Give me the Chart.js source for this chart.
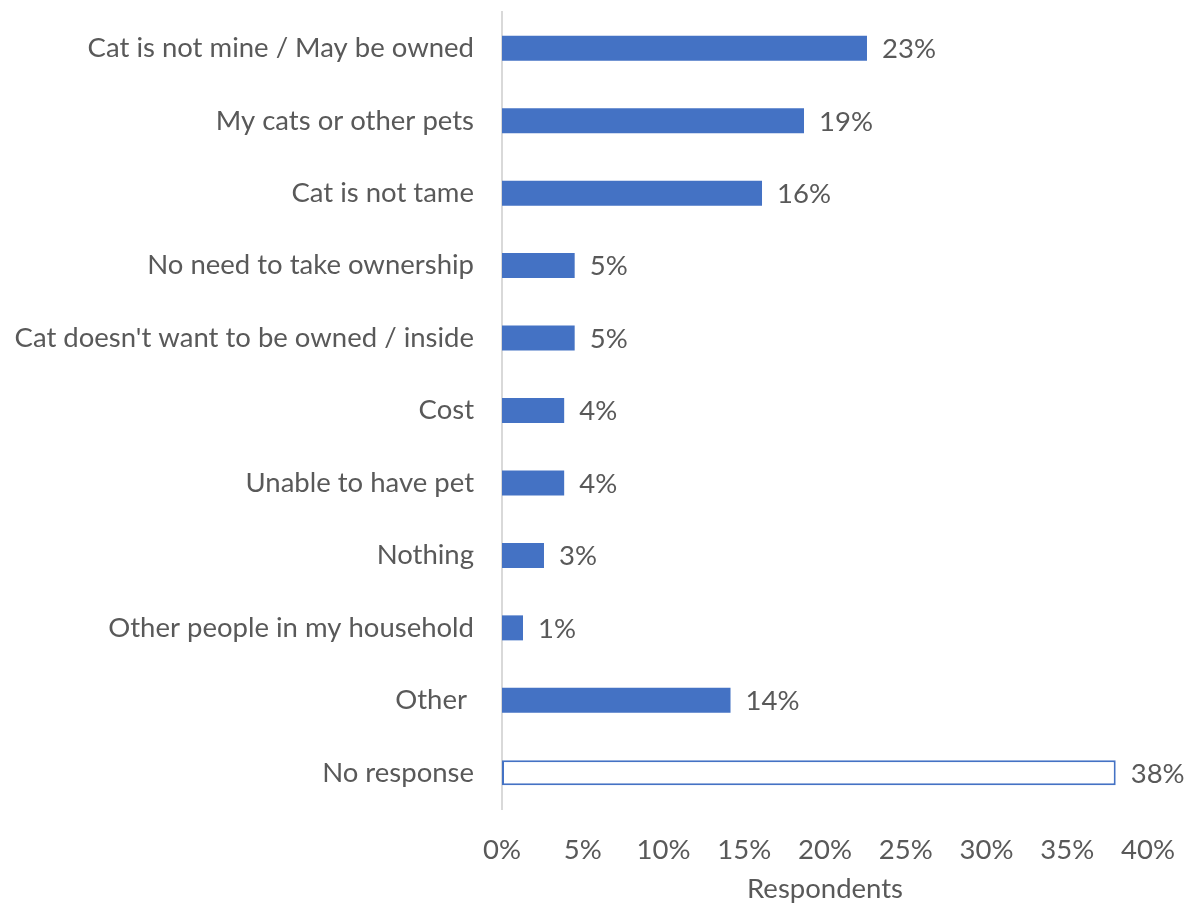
<!DOCTYPE html>
<html>
<head>
<meta charset="utf-8">
<script src="https://cdn.jsdelivr.net/npm/chart.js@4/dist/chart.umd.min.js"></script>
<style>
html,body{margin:0;padding:0;background:#fff;}
#c{display:block;}
</style>
</head>
<body>
<canvas id="c" width="1192" height="906"></canvas>
<script>
const categories = [
  "Cat is not mine / May be owned",
  "My cats or other pets",
  "Cat is not tame",
  "No need to take ownership",
  "Cat doesn't want to be owned / inside",
  "Cost",
  "Unable to have pet",
  "Nothing",
  "Other people in my household",
  "Other ",
  "No response"
];
const values = [22.6, 18.7, 16.1, 4.5, 4.5, 3.85, 3.85, 2.6, 1.3, 14.15, 38.0];
const valueLabels = ["23%", "19%", "16%", "5%", "5%", "4%", "4%", "3%", "1%", "14%", "38%"];
const xTicks = [0, 5, 10, 15, 20, 25, 30, 35, 40];
const axisTitle = "Respondents";

const FONT = "Lato";
const FS = 27.5;
const TEXT = "#595959";
const BLUE = "#4472C4";

const fills = categories.map((c, i) => i === categories.length - 1 ? "#FFFFFF" : BLUE);

const labelPlugin = {
  id: 'valueLabels',
  afterDatasetsDraw(chart) {
    const ctx = chart.ctx;
    const meta = chart.getDatasetMeta(0);
    ctx.save();
    ctx.font = FS + "px " + FONT;
    ctx.fillStyle = TEXT;
    ctx.textAlign = "left";
    ctx.textBaseline = "middle";
    meta.data.forEach((bar, i) => {
      ctx.fillText(valueLabels[i], bar.x + 15, bar.y + 1);
    });
    ctx.restore();
  }
};

new Chart(document.getElementById('c'), {
  type: 'bar',
  data: {
    labels: categories,
    datasets: [{
      data: values,
      backgroundColor: fills,
      borderColor: BLUE,
      borderWidth: categories.map((c, i) => i === categories.length - 1 ? 2 : 0),
      borderSkipped: false,
      barPercentage: 0.345,
      categoryPercentage: 1.0
    }]
  },
  options: {
    indexAxis: 'y',
    responsive: false,
    animation: false,
    devicePixelRatio: 1,
    layout: { padding: { top: 12, right: 44, bottom: 0, left: 0 } },
    plugins: { legend: { display: false }, tooltip: { enabled: false } },
    scales: {
      x: {
        min: 0, max: 40,
        afterBuildTicks(scale) { scale.ticks = xTicks.map(v => ({ value: v })); },
        afterFit(scale) { scale.height = 97; scale.paddingLeft = 0; scale.paddingRight = 0; },
        grid: { display: false, drawTicks: false },
        border: { display: false },
        ticks: {
          padding: 25,
          color: TEXT,
          font: { family: FONT, size: FS },
          maxRotation: 0,
          callback: v => v + "%"
        },
        title: {
          display: true,
          text: axisTitle,
          color: TEXT,
          font: { family: FONT, size: FS },
          padding: { top: 0, bottom: 0 }
        }
      },
      y: {
        afterFit(scale) { scale.width = 502; scale.paddingTop = 0; scale.paddingBottom = 0; },
        grid: { display: false, drawTicks: false },
        border: { display: true, color: "#D9D9D9", width: 2 },
        ticks: {
          padding: 28,
          color: TEXT,
          font: { family: FONT, size: FS },
          autoSkip: false
        }
      }
    }
  },
  plugins: [labelPlugin]
});
</script>
</body>
</html>
